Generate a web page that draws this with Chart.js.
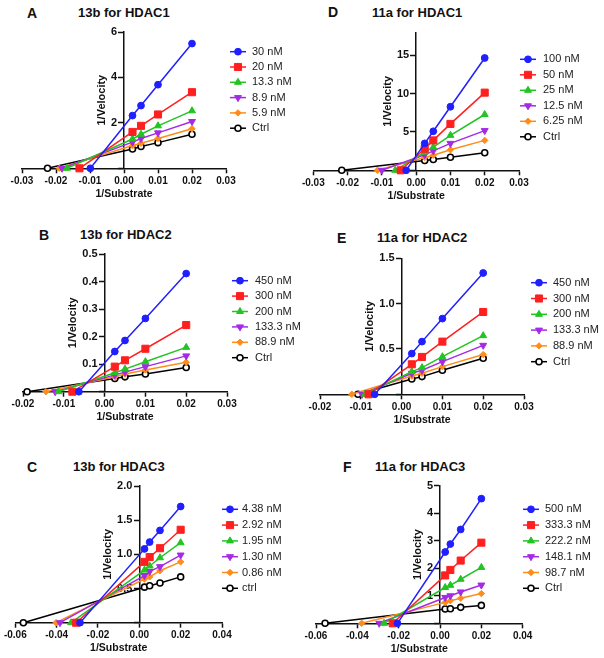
<!DOCTYPE html>
<html>
<head>
<meta charset="utf-8">
<script src="https://cdn.jsdelivr.net/npm/chart.js@4.4.1/dist/chart.umd.min.js"></script>
<style>
    body { margin: 0; background: #fff; }
    #page { position: relative; width: 604px; height: 658px; overflow: hidden; background: #fff; }
    canvas { position: absolute; }
    .letter, .title {
        position: absolute;
        font-family: "Liberation Sans", Arial, sans-serif;
        font-weight: bold;
        color: #111;
        line-height: 16px;
        white-space: nowrap;
    }
    .letter { font-size: 14px; }
    .title { font-size: 13px; }
</style>
</head>
<body>
<div id="page">
    <div class="letter" style="left:27px; top:5px;">A</div>
    <div class="title" style="left:78px; top:5px;">13b for HDAC1</div>
    <div class="letter" style="left:328px; top:4px;">D</div>
    <div class="title" style="left:372px; top:5px;">11a for HDAC1</div>
    <div class="letter" style="left:39px; top:227px;">B</div>
    <div class="title" style="left:80px; top:227px;">13b for HDAC2</div>
    <div class="letter" style="left:337px; top:230px;">E</div>
    <div class="title" style="left:377px; top:230px;">11a for HDAC2</div>
    <div class="letter" style="left:27px; top:459px;">C</div>
    <div class="title" style="left:73px; top:459px;">13b for HDAC3</div>
    <div class="letter" style="left:343px; top:459px;">F</div>
    <div class="title" style="left:375px; top:459px;">11a for HDAC3</div>

    <canvas id="chartA" width="300" height="210" style="left:0; top:0;"></canvas>
    <canvas id="chartD" width="304" height="210" style="left:300px; top:0;"></canvas>
    <canvas id="chartB" width="300" height="220" style="left:0; top:210px;"></canvas>
    <canvas id="chartE" width="304" height="220" style="left:300px; top:210px;"></canvas>
    <canvas id="chartC" width="300" height="228" style="left:0; top:430px;"></canvas>
    <canvas id="chartF" width="304" height="228" style="left:300px; top:430px;"></canvas>
</div>

<script>
// substrate concentrations used in every panel (1/[S])
const substrate = [0.0025, 0.005, 0.01, 0.02];

// A: 13b for HDAC1
const concA = ["30 nM", "20 nM", "13.3 nM", "8.9 nM", "5.9 nM", "Ctrl"];
const interceptA = [-0.0099, -0.0131, -0.0168, -0.0182, -0.0190, -0.0225];
const velA = [
    [2.32, 2.76, 3.68, 5.49],
    [1.60, 1.87, 2.37, 3.35],
    [1.29, 1.50, 1.87, 2.53],
    [1.15, 1.31, 1.56, 2.06],
    [1.00, 1.10, 1.31, 1.74],
    [0.85, 0.96, 1.13, 1.50]
];
const xTicksA = [-0.03, -0.02, -0.01, 0, 0.01, 0.02, 0.03];
const yTicksA = [0, 2, 4, 6];

// D: 11a for HDAC1
const concD = ["100 nM", "50 nM", "25 nM", "12.5 nM", "6.25 nM", "Ctrl"];
const interceptD = [-0.0029, -0.0045, -0.0061, -0.0100, -0.0113, -0.0217];
const velD = [
    [3.51, 5.09, 8.29, 14.65],
    [2.81, 3.90, 6.05, 10.13],
    [2.37, 3.03, 4.56, 7.28],
    [2.02, 2.54, 3.51, 5.18],
    [1.67, 1.97, 2.68, 3.90],
    [1.27, 1.40, 1.71, 2.28]
];
const xTicksD = [-0.03, -0.02, -0.01, 0, 0.01, 0.02, 0.03];
const yTicksD = [0, 5, 10, 15];

// B: 13b for HDAC2
const concB = ["450 nM", "300 nM", "200 nM", "133.3 nM", "88.9 nM", "Ctrl"];
const interceptB = [-0.0063, -0.0079, -0.0113, -0.0121, -0.0144, -0.0190];
const velB = [
    [0.146, 0.186, 0.266, 0.429],
    [0.091, 0.114, 0.156, 0.242],
    [0.069, 0.082, 0.109, 0.161],
    [0.061, 0.071, 0.091, 0.130],
    [0.054, 0.064, 0.079, 0.107],
    [0.048, 0.054, 0.064, 0.088]
];
const xTicksB = [-0.02, -0.01, 0, 0.01, 0.02, 0.03];
const yTicksB = [0, 0.1, 0.2, 0.3, 0.4, 0.5];

// E: 11a for HDAC2
const concE = ["450 nM", "300 nM", "200 nM", "133.3 nM", "88.9 nM", "Ctrl"];
const interceptE = [-0.0066, -0.0081, -0.0090, -0.0097, -0.0122, -0.0107];
const velE = [
    [0.449, 0.581, 0.835, 1.338],
    [0.331, 0.412, 0.581, 0.908],
    [0.250, 0.294, 0.415, 0.647],
    [0.232, 0.265, 0.360, 0.540],
    [0.202, 0.232, 0.305, 0.438],
    [0.169, 0.195, 0.265, 0.397]
];
const xTicksE = [-0.02, -0.01, 0, 0.01, 0.02, 0.03];
const yTicksE = [0, 0.5, 1.0, 1.5];

// C: 13b for HDAC3
const concC = ["4.38 nM", "2.92 nM", "1.95 nM", "1.30 nM", "0.86 nM", "ctrl"];
const interceptC = [-0.0287, -0.0306, -0.0330, -0.0384, -0.0403, -0.0561];
const velC = [
    [1.08, 1.18, 1.35, 1.70],
    [0.89, 0.96, 1.09, 1.36],
    [0.77, 0.83, 0.95, 1.17],
    [0.69, 0.75, 0.82, 0.99],
    [0.64, 0.67, 0.76, 0.89],
    [0.52, 0.54, 0.58, 0.67]
];
const xTicksC = [-0.06, -0.04, -0.02, 0, 0.02, 0.04];
const yTicksC = [0, 0.5, 1.0, 1.5, 2.0];

// F: 11a for HDAC3
const concF = ["500 nM", "333.3 nM", "222.2 nM", "148.1 nM", "98.7 nM", "Ctrl"];
const interceptF = [-0.0206, -0.0229, -0.0271, -0.0294, -0.0379, -0.0556];
const velF = [
    [2.59, 2.88, 3.41, 4.53],
    [1.74, 1.94, 2.28, 2.93],
    [1.30, 1.38, 1.60, 2.03],
    [0.94, 1.00, 1.14, 1.39],
    [0.76, 0.82, 0.91, 1.08],
    [0.52, 0.53, 0.58, 0.65]
];
const xTicksF = [-0.06, -0.04, -0.02, 0, 0.02, 0.04];
const yTicksF = [0, 1, 2, 3, 4, 5];

const seriesColors = ["#1f1fff", "#ff1f1f", "#22c422", "#a52ae6", "#ff8c1a", "#000000"];
const pointStyles = ["circle", "rect", "triangle", "triangle", "rectRot", "circle"];
const pointRotations = [0, 0, 0, 180, 0, 0];
const pointRadii = [3.4, 5, 4, 4, 3.2, 3];

const FONT = '"Liberation Sans", Arial, sans-serif';
Chart.defaults.font.family = FONT;
Chart.defaults.color = "#111";

const panels = [
    { id: "chartA", labels: concA, intercepts: interceptA, vel: velA, xTicks: xTicksA, yTicks: yTicksA, xMin: -0.03, xMax: 0.03, yMax: 6, yDec: 0,
      pad: { left: 22, right: 74, top: 32, bottom: 9.7 }, legend: { lineLeft: 230, textLeft: 252, top: 51.7, step: 15.3 } },
    { id: "chartD", labels: concD, intercepts: interceptD, vel: velD, xTicks: xTicksD, yTicks: yTicksD, xMin: -0.03, xMax: 0.03, yMax: 18, yDec: 0,
      pad: { left: 13.3, right: 85, top: 32.3, bottom: 7.7 }, legend: { lineLeft: 220, textLeft: 243, top: 59.3, step: 15.5 } },
    { id: "chartB", labels: concB, intercepts: interceptB, vel: velB, xTicks: xTicksB, yTicks: yTicksB, xMin: -0.02, xMax: 0.03, yMax: 0.5, yDec: 1,
      pad: { left: 23, right: 73, top: 44, bottom: 6.3 }, legend: { lineLeft: 232, textLeft: 255, top: 70.7, step: 15.4 } },
    { id: "chartE", labels: concE, intercepts: interceptE, vel: velE, xTicks: xTicksE, yTicks: yTicksE, xMin: -0.02, xMax: 0.03, yMax: 1.5, yDec: 1,
      pad: { left: 20, right: 80, top: 48.3, bottom: 3.7 }, legend: { lineLeft: 231, textLeft: 253, top: 72.7, step: 15.8 } },
    { id: "chartC", labels: concC, intercepts: interceptC, vel: velC, xTicks: xTicksC, yTicks: yTicksC, xMin: -0.06, xMax: 0.04, yMax: 2, yDec: 1,
      pad: { left: 15.3, right: 78, top: 56, bottom: 3.3 }, legend: { lineLeft: 222, textLeft: 242, top: 79.3, step: 15.8 } },
    { id: "chartF", labels: concF, intercepts: interceptF, vel: velF, xTicks: xTicksF, yTicks: yTicksF, xMin: -0.06, xMax: 0.04, yMax: 5, yDec: 0,
      pad: { left: 16, right: 81.3, top: 55.7, bottom: 2.7 }, legend: { lineLeft: 223, textLeft: 245, top: 79.3, step: 15.8 } }
];

// legend drawn to the right of the plot: short line with the series marker
const sideLegend = {
    id: "sideLegend",
    afterDraw(chart, args, opts) {
        const ctx = chart.ctx;
        ctx.save();
        chart.data.datasets.forEach((ds, i) => {
            const y = opts.top + i * opts.step;
            ctx.strokeStyle = ds.borderColor;
            ctx.lineWidth = 1.5;
            ctx.beginPath();
            ctx.moveTo(opts.lineLeft, y);
            ctx.lineTo(opts.lineLeft + 16, y);
            ctx.stroke();

            ctx.fillStyle = ds.pointBackgroundColor;
            ctx.strokeStyle = ds.pointBorderColor;
            ctx.lineWidth = ds.pointBorderWidth;
            Chart.helpers.drawPoint(ctx, {
                pointStyle: ds.pointStyle,
                rotation: ds.pointRotation,
                radius: ds.pointRadius,
                borderWidth: ds.pointBorderWidth
            }, opts.lineLeft + 8, y);

            ctx.fillStyle = "#222";
            ctx.font = "11px " + FONT;
            ctx.textAlign = "left";
            ctx.textBaseline = "middle";
            ctx.fillText(ds.label, opts.textLeft, y);
        });
        ctx.restore();
    }
};

// tick labels and title for the y axis that crosses at x = 0
const yAxisText = {
    id: "yAxisText",
    beforeDatasetsDraw(chart, args, opts) {
        const ctx = chart.ctx;
        const yScale = chart.scales.y;
        const x0 = chart.scales.x.getPixelForValue(0);
        ctx.save();
        ctx.font = "bold 11px " + FONT;
        ctx.fillStyle = "#111";
        ctx.textAlign = "right";
        ctx.textBaseline = "middle";
        let widest = 0;
        yScale.ticks.forEach((t) => {
            if (t.value === 0) {
                return;
            }
            const label = t.value.toFixed(opts.dec);
            widest = Math.max(widest, ctx.measureText(label).width);
            ctx.fillText(label, x0 - 5 - 2, yScale.getPixelForValue(t.value));
        });
        const tx = x0 - 5 - 2 - widest - 3 - 6;
        const ty = (chart.chartArea.top + chart.chartArea.bottom) / 2;
        ctx.translate(tx, ty);
        ctx.rotate(-Math.PI / 2);
        ctx.textAlign = "center";
        ctx.fillText("1/Velocity", 0, 0);
        ctx.restore();
    }
};

function buildDatasets(labels, intercepts, vel) {
    return labels.map((label, i) => ({
        label: label,
        data: [{ x: intercepts[i], y: 0 }].concat(substrate.map((s, k) => ({ x: s, y: vel[i][k] }))),
        showLine: true,
        borderColor: seriesColors[i],
        backgroundColor: seriesColors[i],
        borderWidth: 1.5,
        pointBackgroundColor: i === 5 ? "#ffffff" : seriesColors[i],
        pointBorderColor: seriesColors[i],
        pointBorderWidth: i === 5 ? 1.6 : 1,
        pointStyle: pointStyles[i],
        pointRotation: pointRotations[i],
        pointRadius: pointRadii[i],
        clip: false
    }));
}

function fmtX(v) {
    if (Math.abs(v) < 1e-9) {
        return "0.00";
    }
    return v.toFixed(2);
}

function makePanel(p) {
    const canvas = document.getElementById(p.id);
    new Chart(canvas.getContext("2d"), {
        type: "scatter",
        data: { datasets: buildDatasets(p.labels, p.intercepts, p.vel) },
        options: {
            responsive: false,
            animation: false,
            events: [],
            layout: { padding: p.pad },
            plugins: {
                legend: { display: false },
                tooltip: { enabled: false },
                sideLegend: p.legend,
                yAxisText: { dec: p.yDec }
            },
            scales: {
                x: {
                    type: "linear",
                    position: "bottom",
                    min: p.xMin,
                    max: p.xMax,
                    afterBuildTicks: (s) => { s.ticks = p.xTicks.map((v) => ({ value: v })); },
                    afterFit: (s) => { s.height = 32; },
                    grid: { display: true, drawOnChartArea: false, drawTicks: true, tickLength: 5, tickWidth: 1.5, tickColor: "#111" },
                    border: { display: true, color: "#111", width: 1.5 },
                    ticks: {
                        padding: 1.5,
                        color: "#111",
                        font: { size: 10, weight: "bold" },
                        maxRotation: 0,
                        autoSkip: false,
                        callback: (v) => fmtX(v)
                    },
                    title: {
                        display: true,
                        text: "1/Substrate",
                        color: "#111",
                        font: { size: 10.5, weight: "bold" },
                        padding: 0
                    }
                },
                y: {
                    type: "linear",
                    position: { x: 0 },
                    min: 0,
                    max: p.yMax,
                    afterBuildTicks: (s) => { s.ticks = p.yTicks.map((v) => ({ value: v })); },
                    afterFit: (s) => { s.width = 0; },
                    grid: { display: true, drawOnChartArea: false, drawTicks: true, tickLength: 5, tickWidth: 1.5, tickColor: "#111" },
                    border: { display: true, color: "#111", width: 1.5 },
                    ticks: { display: false },
                    title: { display: false }
                }
            }
        },
        plugins: [sideLegend, yAxisText]
    });
}

panels.forEach(makePanel);
</script>
</body>
</html>
